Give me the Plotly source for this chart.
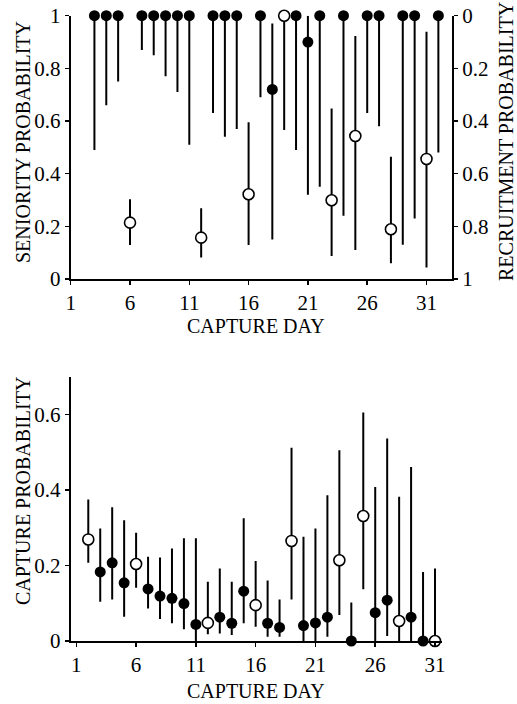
import plotly.graph_objects as go

# ---------------- data ----------------
# Top panel: filled points = seniority probability (left axis)
sen_days = [3, 4, 5, 7, 8, 9, 10, 11, 13, 14, 15, 17, 18, 20, 21, 22, 24, 26, 27, 29, 30, 32]
sen_val = [1, 1, 1, 1, 1, 1, 1, 1, 1, 1, 1, 1, 0.72, 1, 0.90, 1, 1, 1, 1, 1, 1, 1]
sen_low = [0.49, 0.66, 0.75, 0.87, 0.85, 0.77, 0.71, 0.51, 0.63, 0.54, 0.57, 0.69, 0.15,
           0.49, 0.32, 0.35, 0.24, 0.63, 0.58, 0.13, 0.23, 0.48]
sen_high = [1, 1, 1, 1, 1, 1, 1, 1, 1, 1, 1, 1, 0.97, 1, 1.0, 1, 1, 1, 1, 1, 1, 1]

# Top panel: open points = recruitment probability (right axis, reversed)
rec_days = [6, 12, 16, 19, 23, 25, 28, 31]
rec_val = [0.786, 0.843, 0.678, 0.0, 0.701, 0.457, 0.811, 0.544]
rec_low = [0.697, 0.731, 0.405, 0.0, 0.352, 0.077, 0.536, 0.061]
rec_high = [0.871, 0.918, 0.871, 0.434, 0.913, 0.890, 0.940, 0.956]

# Bottom panel: capture probability
cap_days = list(range(2, 32))
cap_val = [0.269, 0.183, 0.207, 0.154, 0.204, 0.138, 0.119, 0.113, 0.099, 0.044,
           0.048, 0.063, 0.047, 0.132, 0.095, 0.047, 0.036, 0.265, 0.041, 0.048,
           0.063, 0.214, 0.0, 0.331, 0.075, 0.108, 0.053, 0.063, 0.0, 0.0]
cap_low = [0.207, 0.104, 0.110, 0.064, 0.141, 0.086, 0.058, 0.047, 0.031, 0.0,
           0.018, 0.020, 0.016, 0.047, 0.038, 0.011, 0.011, 0.110, 0.0, 0.0,
           0.011, 0.069, 0.0, 0.137, 0.0, 0.013, 0.0, 0.0, 0.0, 0.0]
cap_high = [0.375, 0.298, 0.354, 0.320, 0.287, 0.223, 0.221, 0.245, 0.272, 0.272,
            0.157, 0.192, 0.157, 0.325, 0.212, 0.160, 0.110, 0.512, 0.276, 0.298,
            0.386, 0.505, 0.102, 0.605, 0.408, 0.536, 0.382, 0.461, 0.183, 0.192]
cap_open_days = [2, 6, 12, 16, 19, 23, 25, 28, 31]

x_ticks = [1, 6, 11, 16, 21, 26, 31]
top_y_ticks = [0, 0.2, 0.4, 0.6, 0.8, 1]
top_y_text = ["0", "0.2", "0.4", "0.6", "0.8", "1"]
bot_y_ticks = [0, 0.2, 0.4, 0.6]
bot_y_text = ["0", "0.2", "0.4", "0.6"]

FONT = "Liberation Serif"
W, H = 517, 704

def fx(px):                   # page pixel -> paper fraction (x)
    return px / W

def fy(py):                   # page pixel (from top) -> paper fraction (y)
    return (H - py) / H

def split(days, val, low, high, sel):
    d, v, lo, hi = [], [], [], []
    for a, b, c, e in zip(days, val, low, high):
        if sel(a):
            d.append(a); v.append(b); lo.append(b - c); hi.append(e - b)
    return d, v, lo, hi

def eb(lo, hi):
    return dict(type="data", array=hi, arrayminus=lo, width=0, thickness=2, color="black")

filled_marker = dict(size=11, color="black", line=dict(width=0))
open_marker = dict(size=11, color="white", line=dict(width=1.6, color="black"))

fig = go.Figure()

fig.add_trace(go.Scatter(x=sen_days, y=sen_val, mode="markers", marker=filled_marker,
                         error_y=eb([v - l for v, l in zip(sen_val, sen_low)],
                                    [h - v for v, h in zip(sen_val, sen_high)]),
                         xaxis="x", yaxis="y", cliponaxis=False, showlegend=False))
fig.add_trace(go.Scatter(x=rec_days, y=rec_val, mode="markers", marker=open_marker,
                         error_y=eb([v - l for v, l in zip(rec_val, rec_low)],
                                    [h - v for v, h in zip(rec_val, rec_high)]),
                         xaxis="x", yaxis="y2", cliponaxis=False, showlegend=False))

d, v, lo, hi = split(cap_days, cap_val, cap_low, cap_high, lambda a: a not in cap_open_days)
fig.add_trace(go.Scatter(x=d, y=v, mode="markers", marker=filled_marker, error_y=eb(lo, hi),
                         xaxis="x2", yaxis="y3", cliponaxis=False, showlegend=False))
d, v, lo, hi = split(cap_days, cap_val, cap_low, cap_high, lambda a: a in cap_open_days)
fig.add_trace(go.Scatter(x=d, y=v, mode="markers", marker=open_marker, error_y=eb(lo, hi),
                         xaxis="x2", yaxis="y3", cliponaxis=False, showlegend=False))

tickfont = dict(family=FONT, size=21, color="black")
common = dict(showgrid=False, zeroline=False, tickfont=tickfont, tickcolor="black",
              tickwidth=1.5, automargin=False, ticklabeloverflow="allow")

top_xdom = [fx(70.7), fx(452)]
top_ydom = [fy(279), fy(15.7)]
bot_xdom = [fx(70.7), fx(441.7)]
bot_ydom = [fy(641), fy(376.7)]
top_xr = [1, 33.15]
bot_xr = [0.53, 31.56]

inside = dict(showgrid=False, zeroline=False, showline=False, showticklabels=False,
              ticks="inside", ticklen=4, tickcolor="black", tickwidth=1.5, automargin=False)

fig.update_layout(
    template="none", hovermode=False,
    width=W, height=H, margin=dict(l=0, r=0, t=0, b=0, pad=0, autoexpand=False),
    paper_bgcolor="white", plot_bgcolor="white",
    xaxis=dict(domain=top_xdom, range=top_xr, anchor="y", tickvals=x_ticks,
               showline=True, linecolor="black", linewidth=2,
               ticks="outside", ticklen=4, **common),
    yaxis=dict(domain=top_ydom, range=[0, 1], anchor="x", tickvals=top_y_ticks,
               ticktext=top_y_text, showline=True, linecolor="black", linewidth=2,
               ticks="outside", ticklen=4, **common),
    yaxis2=dict(range=[1, 0], overlaying="y", anchor="x", side="right",
                tickvals=top_y_ticks, ticktext=top_y_text, showline=True,
                linecolor="black", linewidth=2, ticks="outside", ticklen=4, **common),
    xaxis2=dict(domain=bot_xdom, range=bot_xr, anchor="y3", tickvals=x_ticks,
                showline=True, linecolor="black", linewidth=2,
                ticks="outside", ticklen=4, **common),
    yaxis3=dict(domain=bot_ydom, range=[0, 0.7], anchor="x2", tickvals=bot_y_ticks,
                ticktext=bot_y_text, showline=True, linecolor="black", linewidth=2,
                ticks="outside", ticklen=4, **common),
    xaxis3=dict(overlaying="x", anchor="y", range=top_xr, tickvals=x_ticks, **inside),
    yaxis4=dict(overlaying="y", anchor="x", range=[0, 1], tickvals=top_y_ticks, **inside),
    yaxis5=dict(overlaying="y", anchor="x", side="right", range=[1, 0],
                tickvals=top_y_ticks, **inside),
    xaxis4=dict(overlaying="x2", anchor="y3", range=bot_xr, tickvals=x_ticks, **inside),
    yaxis6=dict(overlaying="y3", anchor="x2", range=[0, 0.7], tickvals=bot_y_ticks, **inside),
)

def ann(text, x, y, angle=0, size=20):
    fig.add_annotation(text=text, xref="paper", yref="paper", x=fx(x), y=fy(y),
                       xanchor="center", yanchor="middle", textangle=angle, showarrow=False,
                       font=dict(family=FONT, size=size, color="black"))

ann("SENIORITY PROBABILITY", 23, 142, -90)
ann("RECRUITMENT PROBABILITY", 506, 142, -90)
ann("CAPTURE DAY", 256, 326)
ann("CAPTURE PROBABILITY", 23, 491, -90)
ann("CAPTURE DAY", 256, 691)

fig.write_html("out.html",
               config={"displayModeBar": False, "staticPlot": True},
               post_script="document.body.style.margin='0';"
                           "document.body.style.overflow='hidden';")
